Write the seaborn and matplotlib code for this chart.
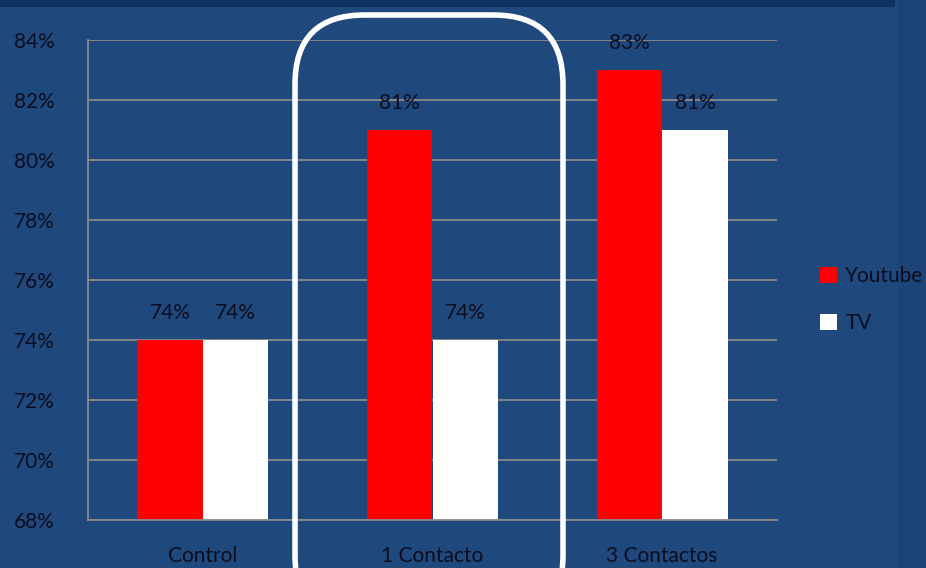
import matplotlib
matplotlib.use("Agg")
import matplotlib.pyplot as plt
import seaborn as sns
import pandas as pd
from matplotlib.patches import FancyBboxPatch, Rectangle, Patch
from matplotlib.ticker import FixedLocator

categories = ["Control", "1 Contacto", "3 Contactos"]
youtube = [74, 81, 83]
tv = [74, 74, 81]
series_names = ["Youtube", "TV"]
yticks = [68, 70, 72, 74, 76, 78, 80, 82, 84]

df = pd.DataFrame({
    "cat": categories * 2,
    "serie": [series_names[0]] * 3 + [series_names[1]] * 3,
    "val": youtube + tv,
})

BG = "#1F497D"
TXT = "#0d0d1f"
GRID = "#8a8a8a"
FS = 15

sns.set_theme(style="white")
plt.rcParams["font.family"] = ["Lato", "DejaVu Sans"]

fig = plt.figure(figsize=(9.26, 5.68), dpi=100, facecolor=BG)
W, H = 926, 568
ax = fig.add_axes([88 / W, 1 - 520 / H, (777 - 88) / W, (520 - 40) / H])
ax.set_facecolor(BG)

sns.barplot(data=df, x="cat", y="val", hue="serie", order=categories,
            hue_order=series_names, palette=["#FF0000", "#FFFFFF"],
            width=0.57, ax=ax, legend=False, saturation=1, linewidth=0)

ax.set_ylim(68, 84)
ax.set_xlim(-0.5, 2.5)
ax.set_yticks(yticks)
ax.set_yticklabels([f"{v}%" for v in yticks], fontsize=FS, color=TXT)
ax.tick_params(axis="y", length=0, pad=24)
ax.yaxis.grid(True, color=GRID, linewidth=1.3)
ax.set_axisbelow(True)

ax.xaxis.set_major_locator(FixedLocator([-0.5, 0.5, 1.5, 2.5]))
ax.xaxis.set_minor_locator(FixedLocator([0, 1, 2]))
ax.set_xticklabels([], minor=False)
ax.set_xticklabels(categories, minor=True, fontsize=FS, color=TXT)
ax.tick_params(axis="x", which="major", length=6, color=GRID, width=1.2, direction="out")
ax.tick_params(axis="x", which="minor", length=0, pad=19)
ax.set_xlabel("")
ax.set_ylabel("")

for s in ["top", "right"]:
    ax.spines[s].set_visible(False)
for s in ["left", "bottom"]:
    ax.spines[s].set_color(GRID)
    ax.spines[s].set_linewidth(1.3)

for cont in ax.containers:
    ax.bar_label(cont, labels=[f"{int(v)}%" for v in cont.datavalues],
                 padding=12, fontsize=FS, color=TXT)

# top dark band and right strip
fig.patches.append(Rectangle((0, 1 - 7 / H), 895 / W, 7 / H, transform=fig.transFigure,
                             facecolor="#0f3463", edgecolor="none", zorder=0))
fig.patches.append(Rectangle((897 / W, 0), 29 / W, 1, transform=fig.transFigure,
                             facecolor="#1c4477", edgecolor="none", zorder=0))

# rounded highlight box
box = FancyBboxPatch((295 / W, -0.1), (563 - 295) / W, (0.1 + 1 - 15 / H),
                     boxstyle="round,pad=0,rounding_size=0.075",
                     transform=fig.transFigure, facecolor="none",
                     edgecolor="white", linewidth=4, zorder=5, clip_on=False,
                     mutation_aspect=W / H)
fig.patches.append(box)

# legend
handles = [Patch(facecolor="#FF0000", edgecolor="none"),
           Patch(facecolor="#FFFFFF", edgecolor="none")]
fig.legend(handles, series_names, loc="upper left",
           bbox_to_anchor=(812 / W, 1 - 258 / H), frameon=False,
           fontsize=FS, labelcolor=TXT, handlelength=0.8, handleheight=0.8,
           handletextpad=0.4, labelspacing=1.3, borderaxespad=0)

fig.savefig("out.png", dpi=100, facecolor=BG)
